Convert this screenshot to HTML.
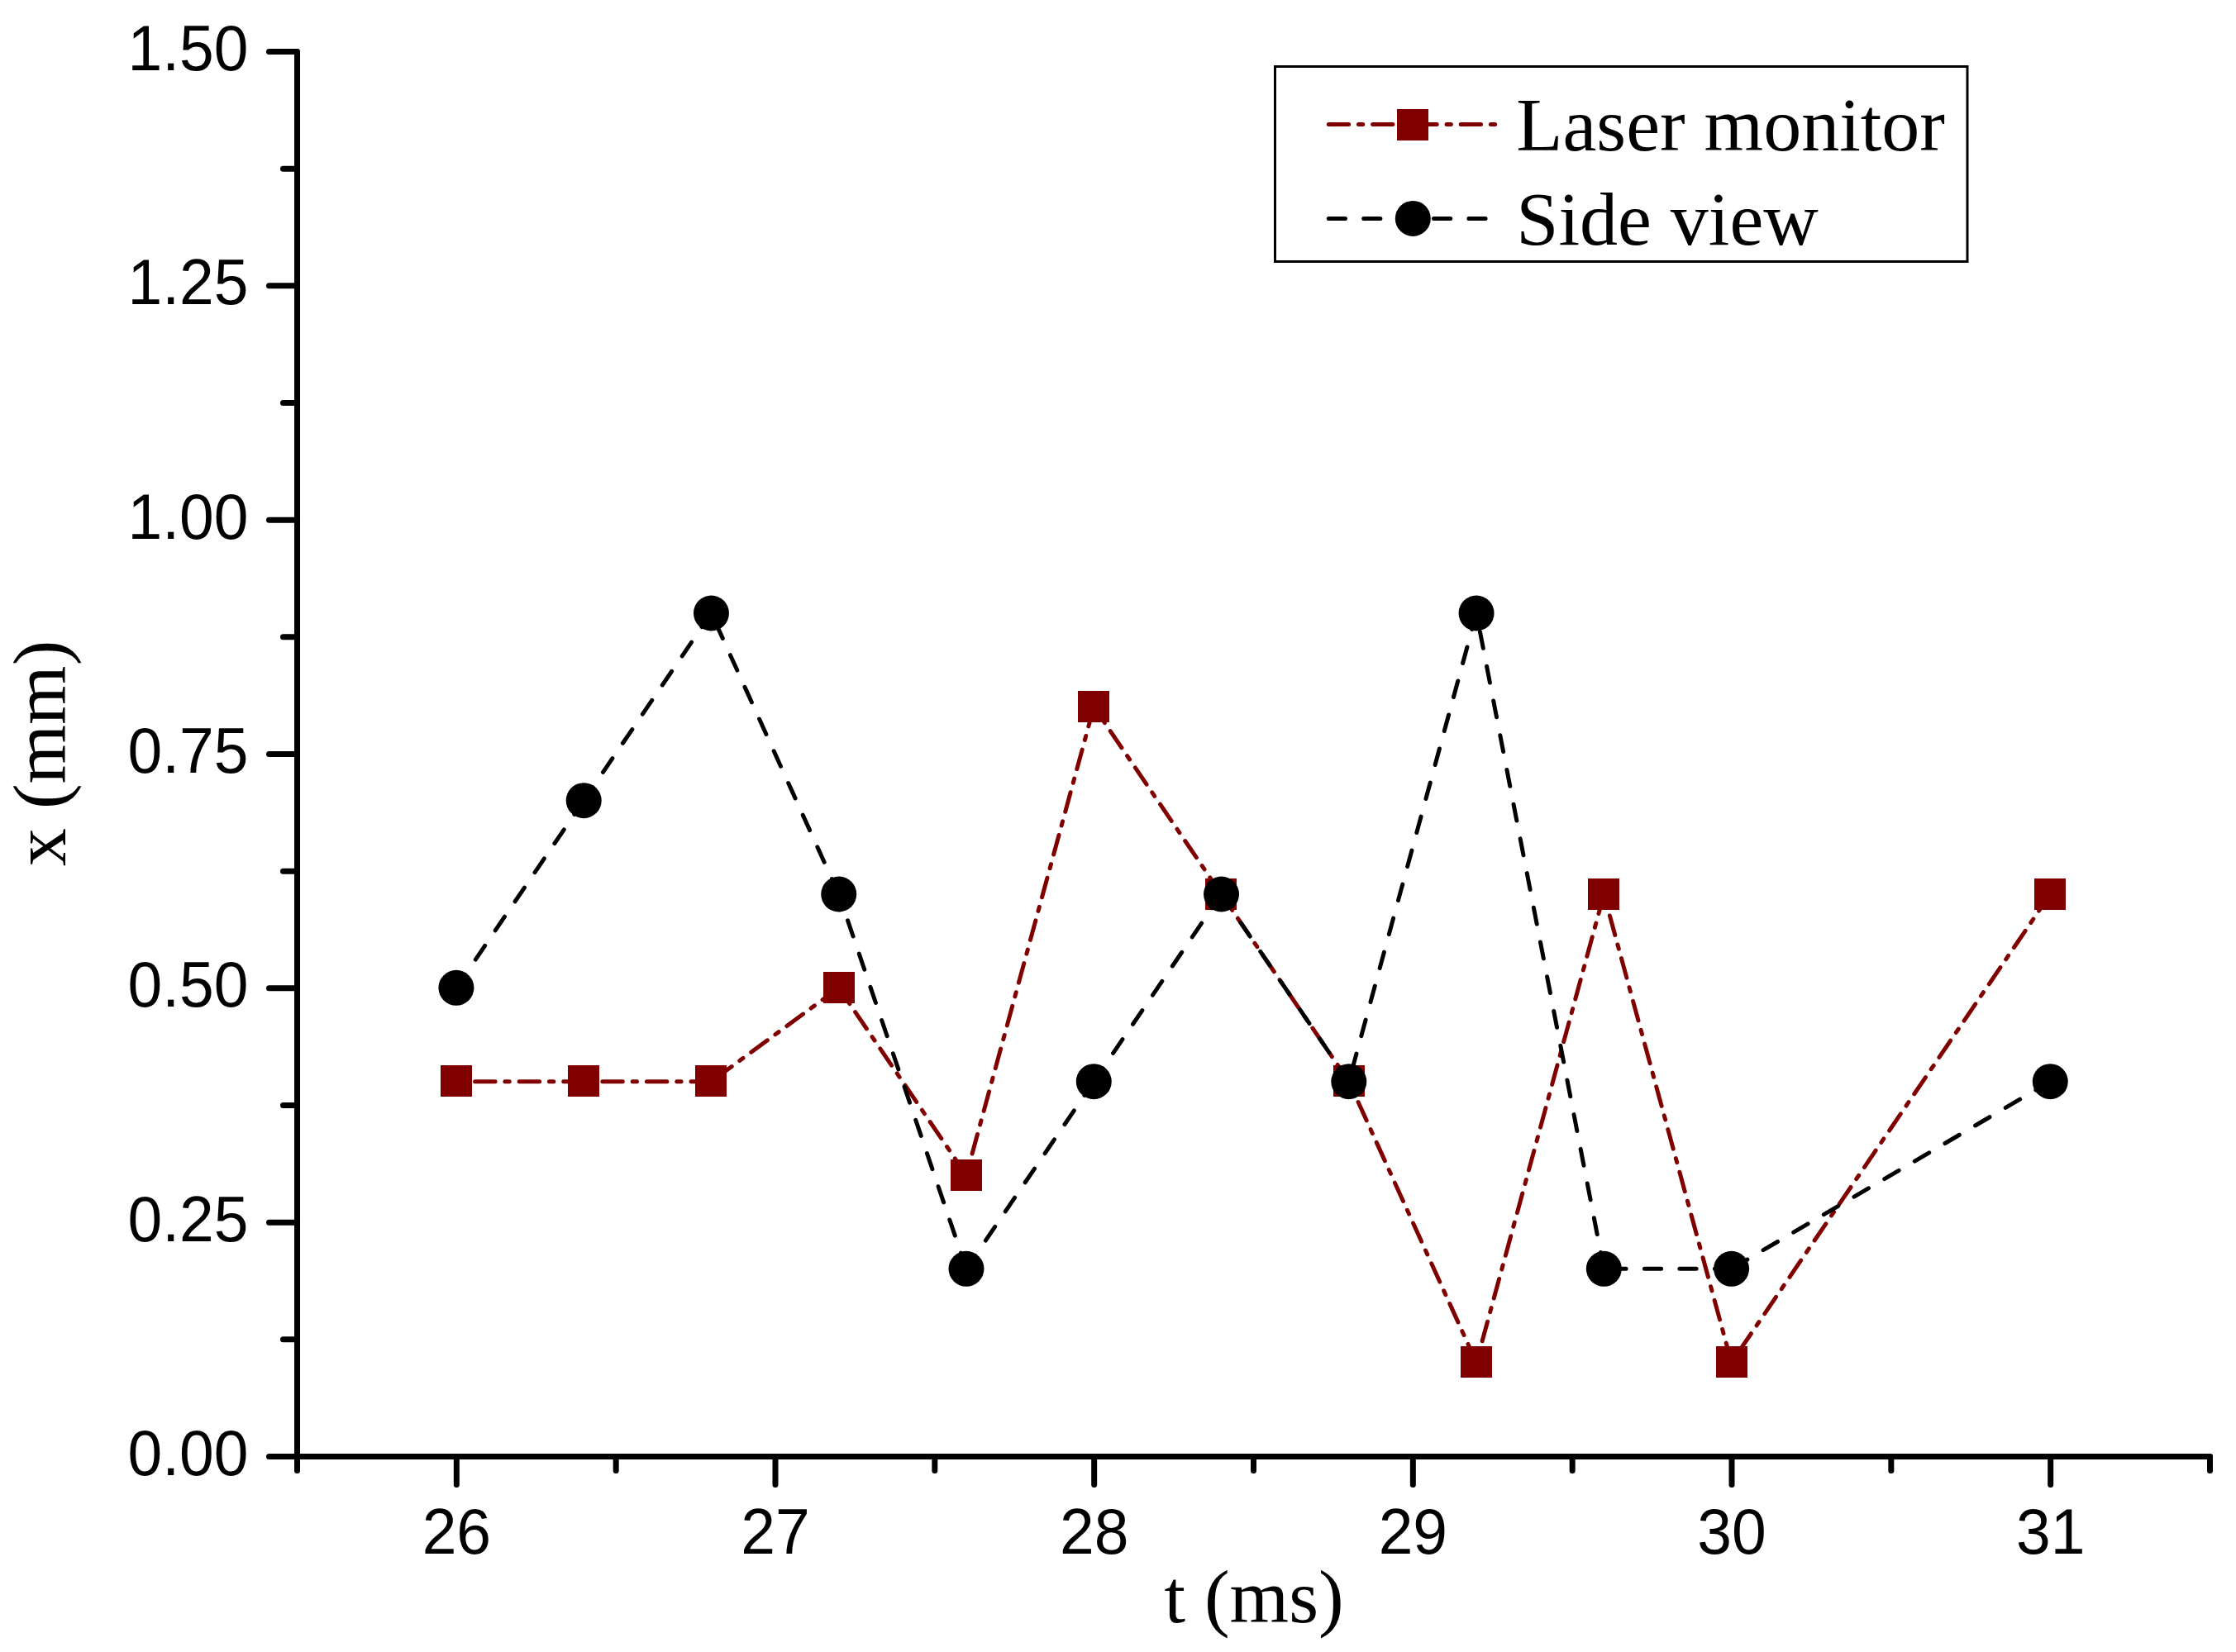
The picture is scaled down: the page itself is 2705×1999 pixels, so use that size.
<!DOCTYPE html>
<html lang="en"><head><meta charset="utf-8"><title>x (mm) vs t (ms)</title>
<style>html,body{margin:0;padding:0;background:#fff}body{width:2705px;height:1999px;overflow:hidden}svg{display:block}.tk{font-family:"Liberation Sans",Arial,sans-serif;font-size:75px;fill:#000}.ti{font-family:"Liberation Serif","Times New Roman",serif;font-size:92px;fill:#000}</style></head><body>
<svg width="2705" height="1999" viewBox="0 0 2705 1999">
<rect width="2705" height="1999" fill="#fff"/>
<g stroke="#000" stroke-width="7" stroke-linecap="round" stroke-linejoin="round" fill="none">
<path d="M359.50 62.50 V1762.50 H2673.50"/>
<path d="M359.50 1762.50 H325.50"/>
<path d="M359.50 1620.83 H342.50"/>
<path d="M359.50 1479.17 H325.50"/>
<path d="M359.50 1337.50 H342.50"/>
<path d="M359.50 1195.83 H325.50"/>
<path d="M359.50 1054.17 H342.50"/>
<path d="M359.50 912.50 H325.50"/>
<path d="M359.50 770.83 H342.50"/>
<path d="M359.50 629.17 H325.50"/>
<path d="M359.50 487.50 H342.50"/>
<path d="M359.50 345.83 H325.50"/>
<path d="M359.50 204.17 H342.50"/>
<path d="M359.50 62.50 H325.50"/>
<path d="M359.50 1762.50 V1779.50"/>
<path d="M552.33 1762.50 V1796.50"/>
<path d="M745.17 1762.50 V1779.50"/>
<path d="M938.00 1762.50 V1796.50"/>
<path d="M1130.83 1762.50 V1779.50"/>
<path d="M1323.67 1762.50 V1796.50"/>
<path d="M1516.50 1762.50 V1779.50"/>
<path d="M1709.33 1762.50 V1796.50"/>
<path d="M1902.17 1762.50 V1779.50"/>
<path d="M2095.00 1762.50 V1796.50"/>
<path d="M2287.83 1762.50 V1779.50"/>
<path d="M2480.67 1762.50 V1796.50"/>
<path d="M2673.50 1762.50 V1779.50"/>
</g>
<g class="tk" text-anchor="end">
<text transform="translate(300.5 1784.90) scale(1 1.04)">0.00</text>
<text transform="translate(300.5 1501.57) scale(1 1.04)">0.25</text>
<text transform="translate(300.5 1218.23) scale(1 1.04)">0.50</text>
<text transform="translate(300.5 934.90) scale(1 1.04)">0.75</text>
<text transform="translate(300.5 651.57) scale(1 1.04)">1.00</text>
<text transform="translate(300.5 368.23) scale(1 1.04)">1.25</text>
<text transform="translate(300.5 84.90) scale(1 1.04)">1.50</text>
</g>
<g class="tk" text-anchor="middle">
<text transform="translate(552.33 1879.6) scale(1 1.04)">26</text>
<text transform="translate(938.00 1879.6) scale(1 1.04)">27</text>
<text transform="translate(1323.67 1879.6) scale(1 1.04)">28</text>
<text transform="translate(1709.33 1879.6) scale(1 1.04)">29</text>
<text transform="translate(2095.00 1879.6) scale(1 1.04)">30</text>
<text transform="translate(2480.67 1879.6) scale(1 1.04)">31</text>
</g>
<text class="ti" text-anchor="middle" x="1517" y="1963.4">t (ms)</text>
<text class="ti" text-anchor="middle" transform="translate(79.3 911.4) rotate(-90)">x (mm)</text>
<g stroke="#800000" stroke-width="5" stroke-linecap="round" fill="none" stroke-dasharray="24.4 12 5.3 11.9">
<path d="M706.20 1308.67 L551.93 1308.67"/>
<path d="M860.47 1308.67 L706.20 1308.67"/>
<path d="M1014.73 1195.33 L860.47 1308.67"/>
<path d="M1169.00 1422.00 L1014.73 1195.33"/>
<path d="M1323.27 855.33 L1169.00 1422.00"/>
<path d="M1477.53 1082.00 L1323.27 855.33"/>
<path d="M1631.80 1308.67 L1477.53 1082.00"/>
<path d="M1786.07 1648.67 L1631.80 1308.67"/>
<path d="M1940.33 1082.00 L1786.07 1648.67"/>
<path d="M2094.60 1648.67 L1940.33 1082.00"/>
<path d="M2480.27 1082.00 L2094.60 1648.67"/>
</g>
<g fill="#800000">
<rect x="533" y="1289" width="38" height="38"/>
<rect x="687" y="1289" width="38" height="38"/>
<rect x="841" y="1289" width="38" height="38"/>
<rect x="996" y="1176" width="38" height="38"/>
<rect x="1150" y="1403" width="38" height="38"/>
<rect x="1304" y="836" width="38" height="38"/>
<rect x="1458" y="1063" width="38" height="38"/>
<rect x="1613" y="1289" width="38" height="38"/>
<rect x="1767" y="1629" width="38" height="38"/>
<rect x="1921" y="1063" width="38" height="38"/>
<rect x="2076" y="1629" width="38" height="38"/>
<rect x="2461" y="1063" width="38" height="38"/>
</g>
<g stroke="#000" stroke-width="5" stroke-linecap="round" fill="none" stroke-dasharray="20.2 22.3">
<path d="M706.20 968.67 L551.93 1195.33"/>
<path d="M860.47 742.00 L706.20 968.67"/>
<path d="M1014.73 1082.00 L860.47 742.00"/>
<path d="M1169.00 1535.33 L1014.73 1082.00"/>
<path d="M1323.27 1308.67 L1169.00 1535.33"/>
<path d="M1477.53 1082.00 L1323.27 1308.67"/>
<path d="M1631.80 1308.67 L1477.53 1082.00"/>
<path d="M1786.07 742.00 L1631.80 1308.67"/>
<path d="M1940.33 1535.33 L1786.07 742.00"/>
<path d="M2094.60 1535.33 L1940.33 1535.33"/>
<path d="M2480.27 1308.67 L2094.60 1535.33"/>
</g>
<g fill="#000">
<circle cx="551.93" cy="1195.33" r="21.5"/>
<circle cx="706.20" cy="968.67" r="21.5"/>
<circle cx="860.47" cy="742.00" r="21.5"/>
<circle cx="1014.73" cy="1082.00" r="21.5"/>
<circle cx="1169.00" cy="1535.33" r="21.5"/>
<circle cx="1323.27" cy="1308.67" r="21.5"/>
<circle cx="1477.53" cy="1082.00" r="21.5"/>
<circle cx="1631.80" cy="1308.67" r="21.5"/>
<circle cx="1786.07" cy="742.00" r="21.5"/>
<circle cx="1940.33" cy="1535.33" r="21.5"/>
<circle cx="2094.60" cy="1535.33" r="21.5"/>
<circle cx="2480.27" cy="1308.67" r="21.5"/>
</g>
<rect x="1542.5" y="80.5" width="837.5" height="236" fill="#fff" stroke="#000" stroke-width="3"/>
<path d="M1607.3 150.5 H1808.6" stroke="#800000" stroke-width="5" stroke-linecap="round" fill="none" stroke-dasharray="24.3 11.85 5.3 11.85"/>
<rect x="1690" y="132" width="38" height="38" fill="#800000"/>
<path d="M1607.3 264.5 H1797.5" stroke="#000" stroke-width="5" stroke-linecap="round" fill="none" stroke-dasharray="20.2 22.2"/>
<circle cx="1709.3" cy="264.4" r="21.5" fill="#000"/>
<text class="ti" x="1834.3" y="181.7">Laser monitor</text>
<text class="ti" x="1834.3" y="295.6">Side view</text>
</svg></body></html>
